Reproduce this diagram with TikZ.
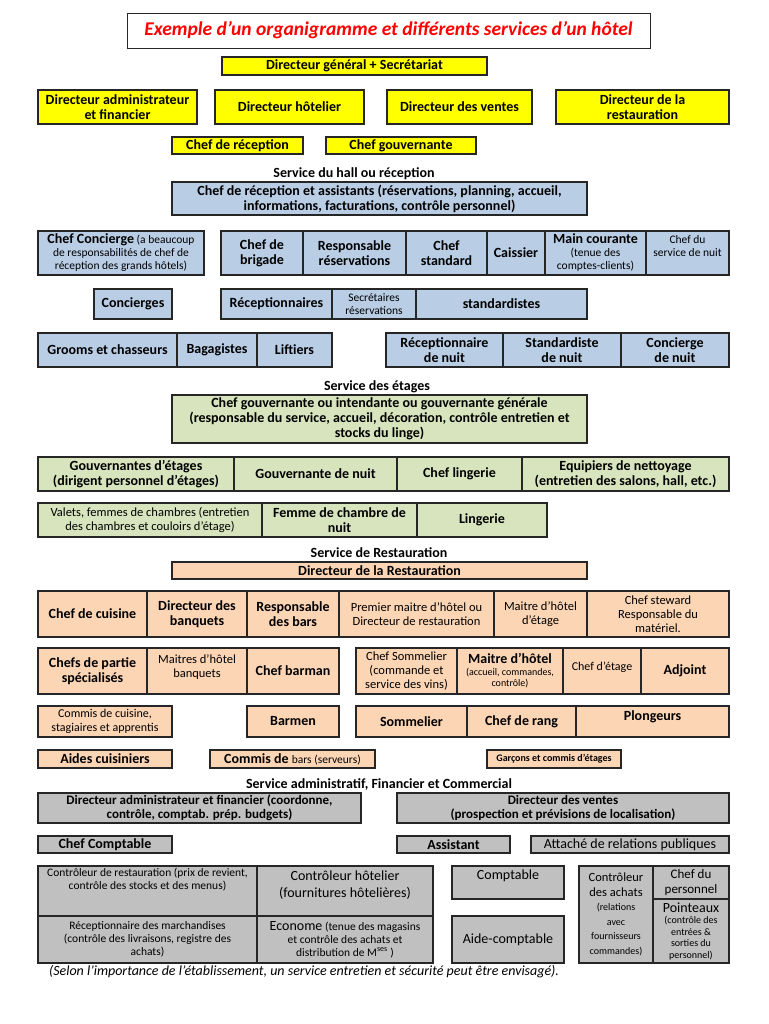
\documentclass[tikz,border=0pt]{standalone}
\usepackage{fontspec}
\setmainfont{Carlito}
\definecolor{hyel}{HTML}{FFFF00}
\definecolor{hblue}{HTML}{B9CDE5}
\definecolor{hgreen}{HTML}{D7E4BD}
\definecolor{hpeach}{HTML}{FCD5B5}
\definecolor{hgray}{HTML}{C0C0C0}
\newcommand{\bigtxt}{\fontsize{14}{15}\selectfont\bfseries}
\newcommand{\regtxt}{\fontsize{14}{16}\selectfont\mdseries}
\newcommand{\medtxt}{\fontsize{12.5}{14}\selectfont\mdseries}
\newcommand{\smtxt}{\fontsize{11.5}{13}\selectfont\mdseries}
\newcommand{\tinytxt}{\fontsize{10}{11.5}\selectfont\mdseries}

\begin{document}
\begin{tikzpicture}[x=1pt,y=-1pt,
    cell/.style={draw=black!85, line width=1.2pt, anchor=north west, outer sep=0pt,
        inner sep=1pt, align=center, font=\bigtxt},
    sz/.style 2 args={minimum width=#1, minimum height=#2},
    head/.style={font=\bigtxt}]
    \useasboundingbox (0,0) rectangle (768,1024);
    % title and direction
    \node[cell, line width=0.8pt, sz={523}{35}, text=red,
        font=\fontsize{19.5}{21}\selectfont\bfseries\itshape] (titre) at (127,13)
        {Exemple d’un organigramme et différents services d’un hôtel};
    \node[cell, fill=hyel, sz={265}{18}] (dg) at (222,57) {Directeur général + Secrétariat};
    \node[cell, fill=hyel, sz={159}{34}] (dadm) at (38,90) {Directeur administrateur\\et financier};
    \node[cell, fill=hyel, sz={149}{34}] (dhot) at (215,90) {Directeur hôtelier};
    \node[cell, fill=hyel, sz={145}{34}] (dven) at (387,90) {Directeur des ventes};
    \node[cell, fill=hyel, sz={173}{34}] (dres) at (556,90) {Directeur de la\\restauration};
    \node[cell, fill=hyel, sz={131}{17}] (chrec) at (172,137) {Chef de réception};
    \node[cell, fill=hyel, sz={150}{17}] (chgouv) at (326,137) {Chef gouvernante};

    % service du hall
    \node[head] (hhall) at (354,174) {Service du hall ou réception};
    \node[cell, fill=hblue, sz={415}{33}] (recass) at (172,182)
        {Chef de réception et assistants (réservations, planning, accueil,\\informations, facturations, contrôle personnel)};
    \node[cell, fill=hblue, sz={166}{44}, font=\smtxt] (chconc) at (38,231)
        {{\bigtxt Chef Concierge} (a beaucoup\\de responsabilités de chef de\\réception des grands hôtels)};
    \node[cell, fill=hblue, sz={82}{44}] (chbrig) at (221,231) {Chef de\\brigade};
    \node[cell, fill=hblue, sz={103}{44}] (respres) at (303,231) {Responsable\\réservations};
    \node[cell, fill=hblue, sz={81}{44}] (chstd) at (406,231) {Chef\\standard};
    \node[cell, fill=hblue, sz={58}{44}] (caiss) at (487,231) {Caissier};
    \node[cell, fill=hblue, sz={101}{44}, font=\smtxt] (maincour) at (545,231)
        {{\bigtxt Main courante}\\(tenue des\\comptes-clients)};
    \node[cell, fill=hblue, sz={83}{44}, font=\smtxt, text depth=14] (chnuit) at (646,231) {Chef du\\service de nuit};
    \node[cell, fill=hblue, sz={78}{30}] (conc) at (94,289) {Concierges};
    \node[cell, fill=hblue, sz={111}{30}] (recep) at (221,289) {Réceptionnaires};
    \node[cell, fill=hblue, sz={84}{30}, font=\smtxt] (secres) at (332,289) {Secrétaires\\réservations};
    \node[cell, fill=hblue, sz={171}{30}] (stdist) at (416,289) {standardistes};
    \node[cell, fill=hblue, sz={139}{34}] (grooms) at (38,333) {Grooms et chasseurs};
    \node[cell, fill=hblue, sz={80}{34}] (bagag) at (177,333) {Bagagistes};
    \node[cell, fill=hblue, sz={75}{34}] (lift) at (257,333) {Liftiers};
    \node[cell, fill=hblue, sz={117}{34}] (recnuit) at (386,333) {Réceptionnaire\\de nuit};
    \node[cell, fill=hblue, sz={118}{34}] (stdnuit) at (503,333) {Standardiste\\de nuit};
    \node[cell, fill=hblue, sz={108}{34}] (concnuit) at (621,333) {Concierge\\de nuit};

    % service des etages
    \node[head] (hetages) at (377,387) {Service des étages};
    \node[cell, fill=hgreen, sz={415}{48}] (chgouvgen) at (172,395)
        {Chef gouvernante ou intendante ou gouvernante générale\\(responsable du service, accueil, décoration, contrôle entretien et\\stocks du linge)};
    \node[cell, fill=hgreen, sz={196}{34}] (gouvet) at (38,457) {Gouvernantes d’étages\\(dirigent personnel d’étages)};
    \node[cell, fill=hgreen, sz={163}{34}] (gouvnuit) at (234,457) {Gouvernante de nuit};
    \node[cell, fill=hgreen, sz={125}{34}] (chling) at (397,457) {Chef lingerie};
    \node[cell, fill=hgreen, sz={207}{34}] (equip) at (522,457) {Equipiers de nettoyage\\(entretien des salons, hall, etc.)};
    \node[cell, fill=hgreen, sz={224}{34}, font=\medtxt] (valets) at (38,503)
        {Valets, femmes de chambres (entretien\\des chambres et couloirs d’étage)};
    \node[cell, fill=hgreen, sz={155}{34}] (femnuit) at (262,503) {Femme de chambre de\\nuit};
    \node[cell, fill=hgreen, sz={130}{34}] (lingerie) at (417,503) {Lingerie};

    % service de restauration
    \node[head] (hrest) at (379,553) {Service de Restauration};
    \node[cell, fill=hpeach, sz={415}{17}] (dirrest) at (172,562) {Directeur de la Restauration};
    \node[cell, fill=hpeach, sz={109}{46}] (chcuis) at (38,591) {Chef de cuisine};
    \node[cell, fill=hpeach, sz={100}{46}] (dirbanq) at (147,591) {Directeur des\\banquets};
    \node[cell, fill=hpeach, sz={92}{46}] (respbars) at (247,591) {Responsable\\des bars};
    \node[cell, fill=hpeach, sz={155}{46}, font=\medtxt] (premmait) at (339,591)
        {Premier maitre d’hôtel ou\\Directeur de restauration};
    \node[cell, fill=hpeach, sz={93}{46}, font=\medtxt] (maitet) at (494,591) {Maitre d’hôtel\\d’étage};
    \node[cell, fill=hpeach, sz={142}{46}, font=\medtxt] (steward) at (587,591) {Chef steward\\Responsable du\\matériel.};
    \node[cell, fill=hpeach, sz={109}{46}] (chpartie) at (38,648) {Chefs de partie\\spécialisés};
    \node[cell, fill=hpeach, sz={100}{46}, font=\medtxt, text depth=10] (maitbanq) at (147,648) {Maitres d’hôtel\\banquets};
    \node[cell, fill=hpeach, sz={92}{46}] (chbarman) at (247,648) {Chef barman};
    \node[cell, fill=hpeach, sz={101}{46}, font=\medtxt] (chsomm) at (356,648)
        {Chef Sommelier\\(commande et\\service des vins)};
    \node[cell, fill=hpeach, sz={106}{46}, font=\tinytxt] (maithot) at (457,648)
        {{\fontsize{14}{15}\selectfont\bfseries Maitre d’hôtel}\\(accueil, commandes,\\contrôle)};
    \node[cell, fill=hpeach, sz={78}{46}, font=\fontsize{12}{13.5}\selectfont, text depth=10] (chetage) at (563,648) {Chef d’étage};
    \node[cell, fill=hpeach, sz={88}{46}] (adjoint) at (641,648) {Adjoint};
    \node[cell, fill=hpeach, sz={134}{31}, font=\fontsize{12}{13.5}\selectfont] (commis) at (38,706) {Commis de cuisine,\\stagiaires et apprentis};
    \node[cell, fill=hpeach, sz={92}{31}] (barmen) at (247,706) {Barmen};
    \node[cell, fill=hpeach, sz={111}{31}] (somm) at (356,706) {Sommelier};
    \node[cell, fill=hpeach, sz={109}{31}] (chrang) at (467,706) {Chef de rang};
    \node[cell, fill=hpeach, sz={153}{31}, text depth=12] (plong) at (576,706) {Plongeurs};
    \node[cell, fill=hpeach, sz={134}{18}] (aides) at (38,750) {Aides cuisiniers};
    \node[cell, fill=hpeach, sz={165}{18}] (commbars) at (210,750) {Commis de {\smtxt bars (serveurs)}};
    \node[cell, fill=hpeach, sz={134}{18}, font=\fontsize{10}{11}\selectfont\bfseries] (garcons) at (487,750)
        {Garçons et commis d’étages};

    % service administratif
    \node[head] (hadm) at (379,785) {Service administratif, Financier et Commercial};
    \node[cell, fill=hgray, sz={323}{30}, font=\fontsize{13}{14}\selectfont\bfseries] (diradm) at (38,793)
        {Directeur administrateur et financier (coordonne,\\contrôle, comptab. prép. budgets)};
    \node[cell, fill=hgray, sz={332}{30}, font=\fontsize{13}{14}\selectfont\bfseries] (dirvent) at (397,793)
        {Directeur des ventes\\(prospection et prévisions de localisation)};
    \node[cell, fill=hgray, sz={134}{17}] (chcompt) at (38,836) {Chef Comptable};
    \node[cell, fill=hgray, sz={113}{17}] (assist) at (397,836) {Assistant};
    \node[cell, fill=hgray, sz={198}{17}, font=\regtxt] (attache) at (531,836) {Attaché de relations publiques};
    \node[cell, fill=hgray, sz={219}{50}, font=\smtxt, text depth=25] (ctrlrest) at (38,866)
        {Contrôleur de restauration (prix de revient,\\contrôle des stocks et des menus)};
    \node[cell, fill=hgray, sz={176}{50}, font=\fontsize{14}{17}\selectfont, text depth=14] (ctrlhot) at (257,866)
        {Contrôleur hôtelier\\(fournitures hôtelières)};
    \node[cell, fill=hgray, sz={219}{47}, font=\smtxt] (recmarch) at (38,916)
        {Réceptionnaire des marchandises\\(contrôle des livraisons, registre des\\achats)};
    \node[cell, fill=hgray, sz={176}{47}, font=\smtxt] (econome) at (257,916)
        {{\regtxt Econome} (tenue des magasins\\et contrôle des achats et\\distribution de M\textsuperscript{ses} )};
    \node[cell, fill=hgray, sz={112}{33}, font=\regtxt, text depth=16] (compt) at (452,866) {Comptable};
    \node[cell, fill=hgray, sz={112}{47}, font=\regtxt] (aidecompt) at (452,916) {Aide-comptable};
    \node[cell, fill=hgray, sz={74}{97}, font=\fontsize{10}{14.5}\selectfont] (ctrlach) at (579,866)
        {{\medtxt Contrôleur}\\{\medtxt des achats}\\(relations\\avec\\fournisseurs\\commandes)};
    \node[cell, fill=hgray, sz={76}{33}, font=\fontsize{13}{15}\selectfont] (chpers) at (653,866) {Chef du\\personnel};
    \node[cell, fill=hgray, sz={76}{64}, font=\tinytxt] (point) at (653,899)
        {{\regtxt Pointeaux}\\(contrôle des\\entrées \&\\sorties du\\personnel)};
    \node[font=\fontsize{14}{16}\selectfont\itshape] (note) at (304,972)
        {(Selon l’importance de l’établissement, un service entretien et sécurité peut être envisagé).};
\end{tikzpicture}
\end{document}
